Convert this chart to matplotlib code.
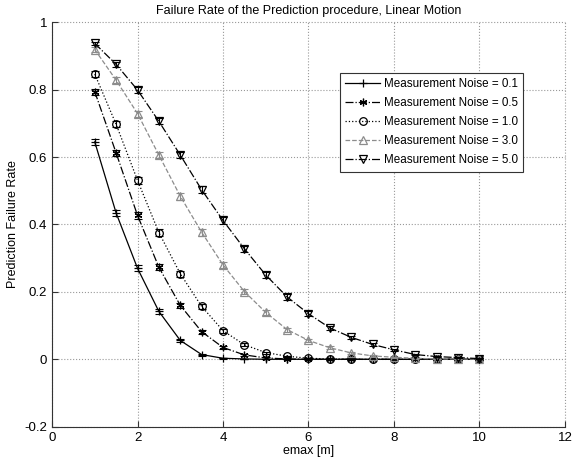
import numpy as np
import matplotlib
matplotlib.use('Agg')
import matplotlib.pyplot as plt

plt.rcParams['font.family'] = ['Liberation Sans', 'DejaVu Sans']

emax = [1, 1.5, 2, 2.5, 3, 3.5, 4, 4.5, 5, 5.5, 6, 6.5, 7, 7.5, 8, 8.5, 9, 9.5, 10]

noise_01 = [0.645, 0.434, 0.270, 0.142, 0.056, 0.014, 0.003, 0.001, 0, 0, 0, 0, 0, 0, 0, 0, 0, 0, 0]
noise_05 = [0.794, 0.612, 0.427, 0.273, 0.160, 0.082, 0.035, 0.013, 0.004, 0.001, 0, 0, 0, 0, 0, 0, 0, 0, 0]
noise_10 = [0.846, 0.697, 0.531, 0.376, 0.254, 0.157, 0.085, 0.043, 0.020, 0.009, 0.003, 0.001, 0, 0, 0, 0, 0, 0, 0]
noise_30 = [0.919, 0.828, 0.729, 0.606, 0.484, 0.377, 0.280, 0.201, 0.139, 0.088, 0.056, 0.034, 0.019, 0.010, 0.006, 0.003, 0.001, 0.001, 0]
noise_50 = [0.937, 0.875, 0.799, 0.706, 0.606, 0.503, 0.412, 0.328, 0.250, 0.185, 0.135, 0.093, 0.065, 0.044, 0.028, 0.014, 0.008, 0.005, 0.002]

err_01 = [0.010, 0.010, 0.009, 0.008, 0.005, 0.003, 0.001, 0, 0, 0, 0, 0, 0, 0, 0, 0, 0, 0, 0]
err_05 = [0.009, 0.010, 0.010, 0.009, 0.008, 0.006, 0.004, 0.003, 0.002, 0, 0, 0, 0, 0, 0, 0, 0, 0, 0]
err_10 = [0.008, 0.009, 0.010, 0.010, 0.009, 0.008, 0.006, 0.005, 0.003, 0.002, 0.001, 0, 0, 0, 0, 0, 0, 0, 0]
err_30 = [0.006, 0.008, 0.009, 0.010, 0.010, 0.010, 0.009, 0.008, 0.007, 0.006, 0.005, 0.004, 0.003, 0.002, 0.002, 0.001, 0, 0, 0]
err_50 = [0.005, 0.007, 0.008, 0.009, 0.010, 0.010, 0.010, 0.009, 0.009, 0.008, 0.007, 0.006, 0.005, 0.004, 0.003, 0.002, 0.002, 0.001, 0.001]

labels = ['Measurement Noise = 0.1', 'Measurement Noise = 0.5', 'Measurement Noise = 1.0',
          'Measurement Noise = 3.0', 'Measurement Noise = 5.0']

# asterisk marker like matlab '*'
asterisk = (6, 2, 0)

series = [
    (noise_01, err_01, '+', '-', 'black'),
    (noise_05, err_05, asterisk, '-.', 'black'),
    (noise_10, err_10, 'o', ':', 'black'),
    (noise_30, err_30, '^', '--', '#8c8c8c'),
    (noise_50, err_50, 'v', '-.', 'black'),
]

fig = plt.figure(figsize=(5.74, 4.59), dpi=100)
ax = fig.add_axes([0.0906, 0.0704, 0.8937, 0.8812])

handles = []
for (vals, err, mk, ls, col), lab in zip(series, labels):
    ax.errorbar(emax, vals, yerr=err, fmt='none', ecolor=col, elinewidth=0.8,
                capsize=3, capthick=0.8)
    h, = ax.plot(emax, vals, linestyle=ls, marker=mk, color=col, markersize=5.5,
                 markerfacecolor='none', markeredgecolor=col, linewidth=0.9,
                 markeredgewidth=0.9, label=lab)
    handles.append(h)

ax.set_xlim(0, 12)
ax.set_ylim(-0.2, 1)
ax.set_xticks([0, 2, 4, 6, 8, 10, 12])
ax.set_yticks([-0.2, 0, 0.2, 0.4, 0.6, 0.8, 1])
ax.set_yticklabels(['-0.2', '0', '0.2', '0.4', '0.6', '0.8', '1'])
ax.grid(True, linestyle=':', color='#999999', linewidth=0.8)
for gl in ax.get_xgridlines() + ax.get_ygridlines():
    gl.set_clip_on(False)
ax.tick_params(direction='in', labelsize=9.5, length=4, color='#333333')
for s in ['top', 'right']:
    ax.spines[s].set_visible(False)
for s in ['left', 'bottom']:
    ax.spines[s].set_color('#333333')

ax.set_title('Failure Rate of the Prediction procedure, Linear Motion', fontsize=9, pad=6)
ax.set_xlabel('emax [m]', fontsize=9, labelpad=1)
ax.set_ylabel('Prediction Failure Rate', fontsize=9)

leg = ax.legend(handles=handles, loc='upper left', bbox_to_anchor=(0.561, 0.874),
                borderaxespad=0, fontsize=8.4, fancybox=False, edgecolor='#333333',
                framealpha=1, handlelength=3.0, borderpad=0.45, labelspacing=0.6,
                handletextpad=0.35)
leg.get_frame().set_linewidth(0.8)

fig.savefig('out.png', dpi=100)
